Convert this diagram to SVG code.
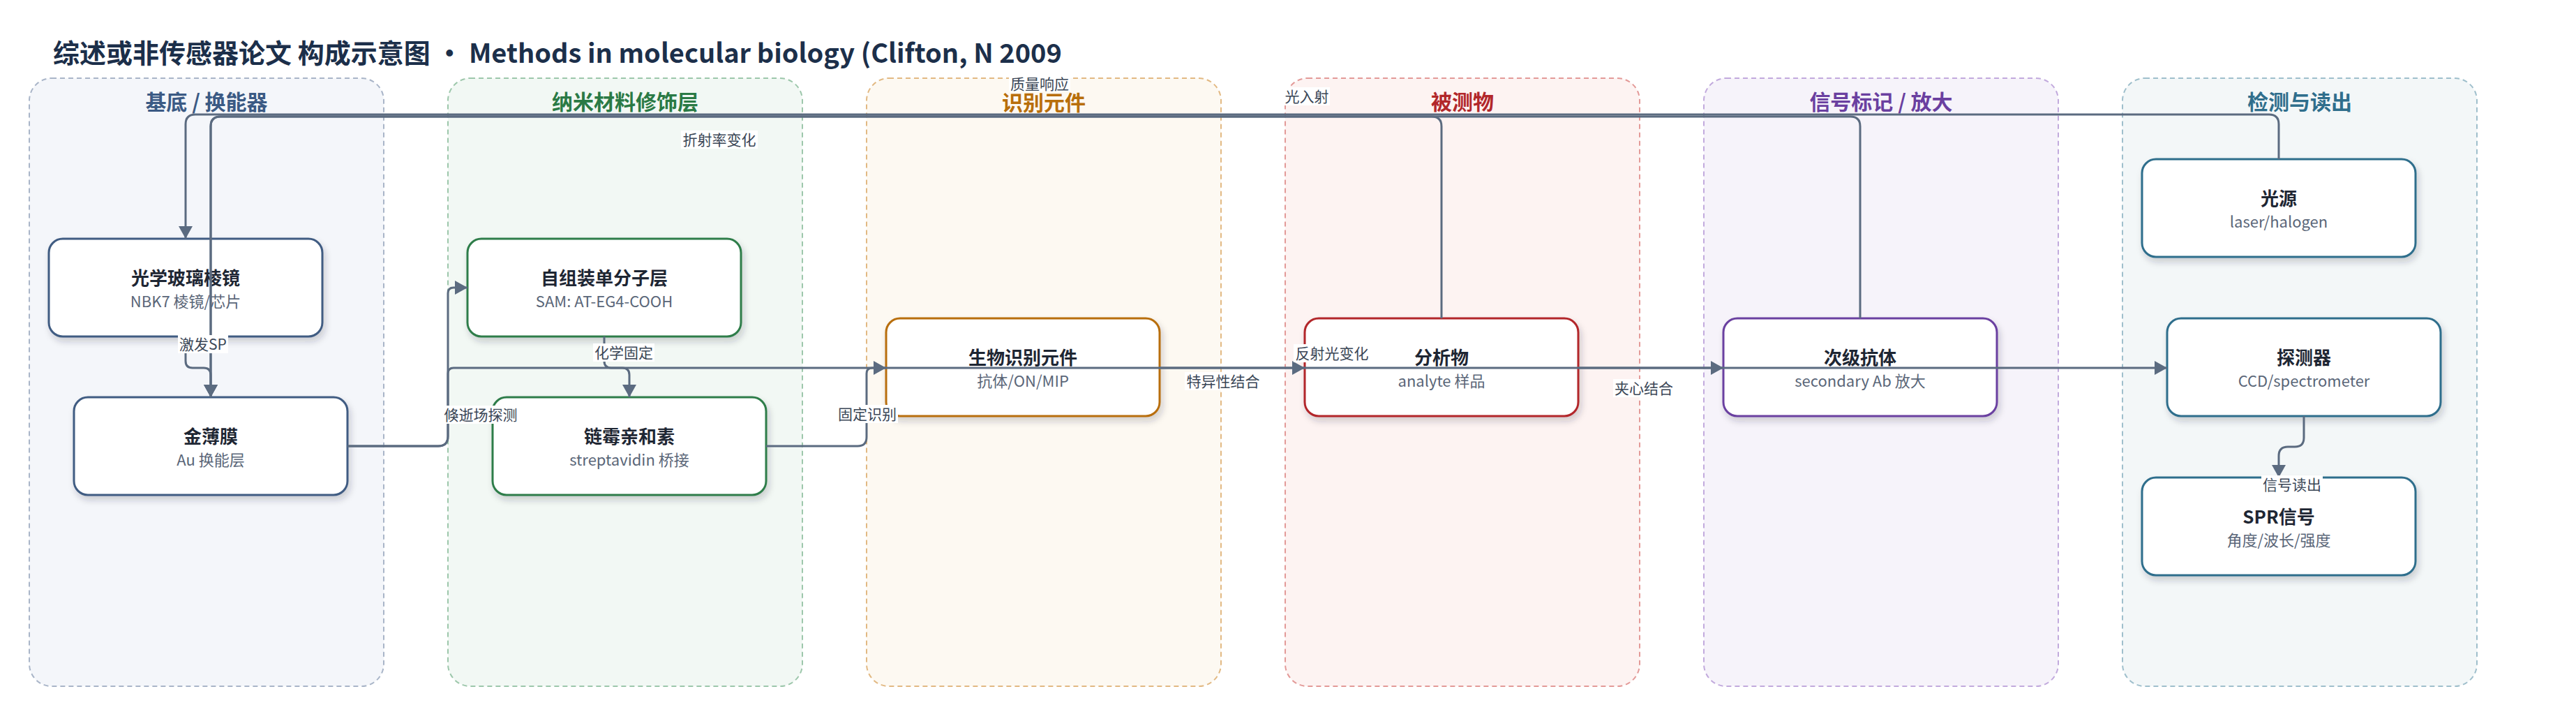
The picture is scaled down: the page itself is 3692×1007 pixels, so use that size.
<svg xmlns="http://www.w3.org/2000/svg" width="3692" height="1007" viewBox="0 0 3692 1007">
<defs>
<filter id="sh" x="-10%" y="-15%" width="125%" height="150%">
<feDropShadow dx="3" dy="6" stdDeviation="5" flood-color="#1e293b" flood-opacity="0.2"/>
</filter>
<marker id="arr" viewBox="0 0 18 20" refX="18" refY="10" markerWidth="18" markerHeight="20" markerUnits="userSpaceOnUse" orient="auto">
<path d="M0,0 L18,10 L0,20 Z" fill="#5b6b80"/>
</marker>
<style>
text{font-family:"Noto Sans CJK SC","Noto Sans",sans-serif;}
.title{font-size:38px;font-weight:700;fill:#1c2f4a;}
.lane{stroke-width:2;stroke-dasharray:7 5;}
.lt{font-size:30px;font-weight:700;text-anchor:middle;}
.node{fill:#ffffff;stroke-width:3;filter:url(#sh);}
.nt{font-size:26px;font-weight:700;fill:#1e2633;text-anchor:middle;}
.ns{font-size:22px;fill:#5a6678;text-anchor:middle;}
.edge{fill:none;stroke:#5b6b80;stroke-width:3;}
.el{font-size:21px;fill:#3a4656;text-anchor:middle;}
.lb{fill:#ffffff;}
</style>
</defs>
<rect width="3692" height="1007" fill="#ffffff"/>
<text class="title" x="76" y="90">综述或非传感器论文 构成示意图 • Methods in molecular biology (Clifton, N 2009</text>

<g id="lanes">
<g id="lane-substrate"><rect class="lane" x="42" y="112" width="508" height="871" rx="32" fill="#f4f6fa" stroke="#a9b5c8"/><text class="lt" x="296" y="157" fill="#3b5a84">基底 / 换能器</text></g>
<g id="lane-nano"><rect class="lane" x="642" y="112" width="508" height="871" rx="32" fill="#f2f8f4" stroke="#9dc7ab"/><text class="lt" x="896" y="157" fill="#2a7a45">纳米材料修饰层</text></g>
<g id="lane-recog"><rect class="lane" x="1242" y="112" width="508" height="871" rx="32" fill="#fdf9f2" stroke="#e2b983"/><text class="lt" x="1496" y="158" fill="#b86e0a">识别元件</text></g>
<g id="lane-analyte"><rect class="lane" x="1842" y="112" width="508" height="871" rx="32" fill="#fdf3f2" stroke="#e39a98"/><text class="lt" x="2096" y="157" fill="#b2272a">被测物</text></g>
<g id="lane-label"><rect class="lane" x="2442" y="112" width="508" height="871" rx="32" fill="#f6f3fa" stroke="#c2aadd"/><text class="lt" x="2696" y="157" fill="#6a3fa0">信号标记 / 放大</text></g>
<g id="lane-detect"><rect class="lane" x="3042" y="112" width="508" height="871" rx="32" fill="#f3f7f8" stroke="#9fbfcc"/><text class="lt" x="3296" y="157" fill="#2f6e8c">检测与读出</text></g>
</g>

<g id="n-prism"><rect class="node" x="70" y="342" width="392" height="140" rx="20" stroke="#3f5b82"/><text class="nt" x="266" y="408">光学玻璃棱镜</text><text class="ns" x="266" y="440">NBK7 棱镜/芯片</text></g>
<g id="n-gold"><rect class="node" x="106" y="569" width="392" height="140" rx="20" stroke="#3f5b82"/><text class="nt" x="302" y="635">金薄膜</text><text class="ns" x="302" y="667">Au 换能层</text></g>
<g id="n-sam"><rect class="node" x="670" y="342" width="392" height="140" rx="20" stroke="#2e7d4a"/><text class="nt" x="866" y="408">自组装单分子层</text><text class="ns" x="866" y="440">SAM: AT-EG4-COOH</text></g>
<g id="n-strep"><rect class="node" x="706" y="569" width="392" height="140" rx="20" stroke="#2e7d4a"/><text class="nt" x="902" y="635">链霉亲和素</text><text class="ns" x="902" y="667">streptavidin 桥接</text></g>
<g id="n-bio"><rect class="node" x="1270" y="456" width="392" height="140" rx="20" stroke="#b86e0a"/><text class="nt" x="1466" y="522">生物识别元件</text><text class="ns" x="1466" y="554">抗体/ON/MIP</text></g>
<g id="n-analyte"><rect class="node" x="1870" y="456" width="392" height="140" rx="20" stroke="#b2272a"/><text class="nt" x="2066" y="522">分析物</text><text class="ns" x="2066" y="554">analyte 样品</text></g>
<g id="n-secab"><rect class="node" x="2470" y="456" width="392" height="140" rx="20" stroke="#6a3fa0"/><text class="nt" x="2666" y="522">次级抗体</text><text class="ns" x="2666" y="554">secondary Ab 放大</text></g>
<g id="n-light"><rect class="node" x="3070" y="228" width="392" height="140" rx="20" stroke="#2f6e8c"/><text class="nt" x="3266" y="294">光源</text><text class="ns" x="3266" y="326">laser/halogen</text></g>
<g id="n-detector"><rect class="node" x="3106" y="456" width="392" height="140" rx="20" stroke="#2f6e8c"/><text class="nt" x="3302" y="522">探测器</text><text class="ns" x="3302" y="554">CCD/spectrometer</text></g>
<g id="n-spr"><rect class="node" x="3070" y="684" width="392" height="140" rx="20" stroke="#2f6e8c"/><text class="nt" x="3266" y="750">SPR信号</text><text class="ns" x="3266" y="782">角度/波长/强度</text></g>

<g id="connectors">
<path class="edge" d="M3266,228 V178 Q3266,164 3252,164 H280 Q266,164 266,178 V342" marker-end="url(#arr)"/>
<path class="edge" d="M2066,456 V181 Q2066,167 2052,167 H316 Q302,167 302,181 V569" marker-end="url(#arr)"/>
<path class="edge" d="M2666,456 V181 Q2666,167 2652,167 H316 Q302,167 302,181 V569" marker-end="url(#arr)"/>
<path class="edge" d="M266,482 V517 Q266,527 276,527 H292 Q302,527 302,537 V569" marker-end="url(#arr)"/>
<path class="edge" d="M498,639 H628 Q642,639 642,625 V420 Q642,412 650,412 H670" marker-end="url(#arr)"/>
<path class="edge" d="M498,639 H628 Q642,639 642,625 V535 Q642,527 650,527 H3106" marker-end="url(#arr)"/>
<path class="edge" d="M866,482 V517 Q866,527 876,527 H892 Q902,527 902,537 V569" marker-end="url(#arr)"/>
<path class="edge" d="M1098,639 H1229 Q1242,639 1242,626 V535 Q1242,527 1250,527 H1270" marker-end="url(#arr)"/>
<path class="edge" d="M1662,527 H1870" marker-end="url(#arr)"/>
<path class="edge" d="M2262,527 H2470" marker-end="url(#arr)"/>
<path class="edge" d="M3302,596 V627 Q3302,640 3289,640 H3279 Q3266,640 3266,653 V684" marker-end="url(#arr)"/>
</g>

<g id="edge-labels">
<rect class="lb" x="1840" y="125" width="66" height="26"/><text class="el" x="1873" y="146">光入射</text>
<rect class="lb" x="1446" y="109" width="88" height="22"/><text class="el" x="1490" y="128">质量响应</text>
<rect class="lb" x="976" y="187" width="110" height="26"/><text class="el" x="1031" y="208">折射率变化</text>
<rect class="lb" x="255" y="480" width="72" height="26"/><text class="el" x="291" y="501">激发SP</text>
<rect class="lb" x="850" y="492" width="88" height="26"/><text class="el" x="894" y="513">化学固定</text>
<rect class="lb" x="634" y="581" width="110" height="26"/><text class="el" x="689" y="602">倏逝场探测</text>
<rect class="lb" x="1199" y="580" width="88" height="26"/><text class="el" x="1243" y="601">固定识别</text>
<rect class="lb" x="1698" y="533" width="110" height="26"/><text class="el" x="1753" y="554">特异性结合</text>
<rect class="lb" x="1854" y="493" width="110" height="26"/><text class="el" x="1909" y="514">反射光变化</text>
<rect class="lb" x="2312" y="543" width="88" height="26"/><text class="el" x="2356" y="564">夹心结合</text>
<rect class="lb" x="3241" y="681" width="88" height="26"/><text class="el" x="3285" y="702">信号读出</text>
</g>
</svg>
